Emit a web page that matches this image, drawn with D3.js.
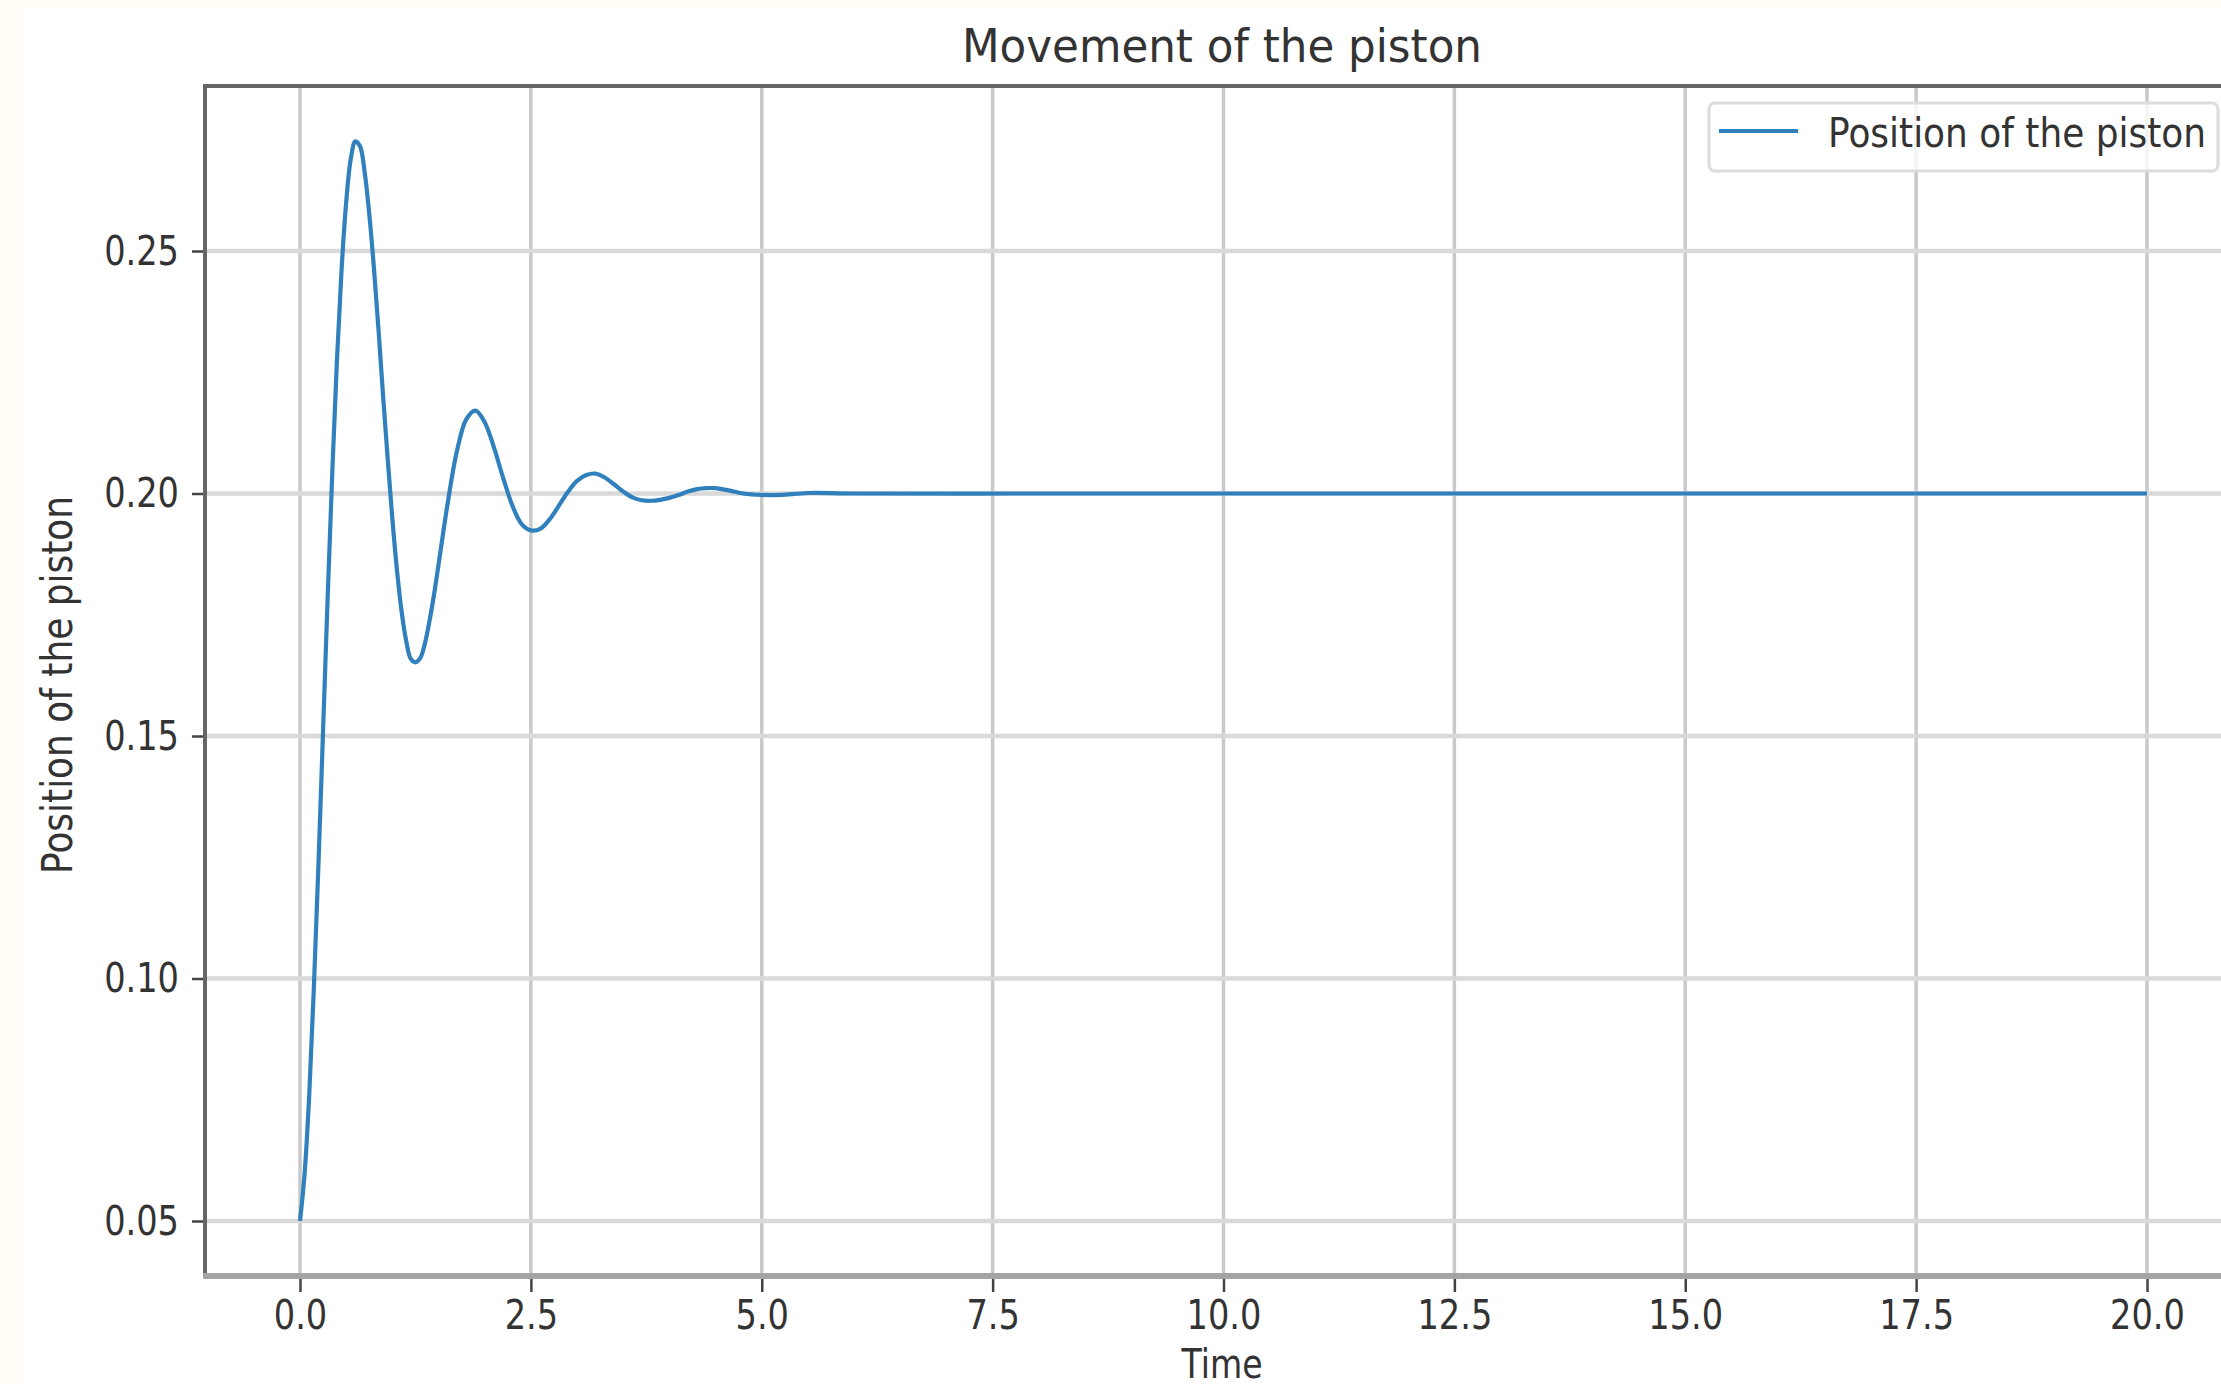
<!DOCTYPE html>
<html>
<head>
<meta charset="utf-8">
<script src="https://cdn.jsdelivr.net/npm/d3@7"></script>
<style>
  body { margin: 0; background: #fffdf6; }
  svg { display: block; }
  text { font-family: "DejaVu Sans", sans-serif; fill: #333; }
</style>
</head>
<body>
<div id="canvas"></div>
<script>
// values
const time = [
  0, 0.05, 0.1, 0.15, 0.2, 0.25, 0.3, 0.35, 0.4, 0.45, 0.5, 0.55, 0.6, 0.65,
  0.7, 0.75, 0.8, 0.85, 0.9, 0.95, 1.0, 1.05, 1.1, 1.15, 1.2, 1.25, 1.3, 1.35,
  1.4, 1.45, 1.5, 1.6, 1.7, 1.8, 1.9, 2.0, 2.1, 2.2, 2.3, 2.4, 2.5, 2.6, 2.7,
  2.8, 2.9, 3.0, 3.1, 3.2, 3.3, 3.4, 3.5, 3.6, 3.7, 3.8, 3.9, 4.0, 4.1, 4.2,
  4.3, 4.4, 4.5, 4.6, 4.7, 4.8, 5.0, 5.2, 5.5, 6.0, 8.0, 10.0, 12.0, 14.0,
  16.0, 18.0, 20.0
];
const position = [
  0.0500, 0.0598, 0.0760, 0.0980, 0.1237, 0.1512, 0.1788, 0.2046, 0.2274,
  0.2461, 0.2600, 0.2690, 0.2726, 0.2716, 0.2663, 0.2576, 0.2466, 0.2338,
  0.2200, 0.2071, 0.1948, 0.1842, 0.1757, 0.1696, 0.1659, 0.1652, 0.1660,
  0.1689, 0.1735, 0.1790, 0.1853, 0.1981, 0.2088, 0.2153, 0.2171, 0.2147,
  0.2095, 0.2032, 0.1975, 0.1937, 0.1924, 0.1927, 0.1946, 0.1974, 0.2003,
  0.2026, 0.2038, 0.2041, 0.2033, 0.2019, 0.2004, 0.1992, 0.1986, 0.1985,
  0.1987, 0.1991, 0.1997, 0.2004, 0.2009, 0.2011, 0.2011, 0.2008, 0.2004,
  0.2000, 0.1997, 0.1997, 0.2001, 0.2000, 0.2000, 0.2000, 0.2000, 0.2000,
  0.2000, 0.2000, 0.2000
];
const xTicks = [0, 2.5, 5, 7.5, 10, 12.5, 15, 17.5, 20];
const yTicks = [0.05, 0.10, 0.15, 0.20, 0.25];

const W = 2221, H = 1384;
const plotLeft = 205, plotTop = 86, plotRight = 2239, plotBottom = 1276;
const squeeze = 0.82; // the picture's text is narrower than the font

const svg = d3.select("#canvas").append("svg")
  .attr("width", W).attr("height", H);

svg.append("rect")
  .attr("x", 24).attr("y", 8).attr("width", W - 24).attr("height", H - 8)
  .attr("fill", "#fff");

const x = d3.scaleLinear().domain([0, 20]).range([300, 2147]);
const y = d3.scaleLinear().domain([0.05, 0.25]).range([1221, 251]);

// grid
svg.append("g").selectAll("line").data(xTicks).enter().append("line")
  .attr("x1", d => x(d)).attr("x2", d => x(d))
  .attr("y1", plotTop).attr("y2", plotBottom)
  .attr("stroke", "#c9c9c9").attr("stroke-width", 3.5);
svg.append("g").selectAll("line").data(yTicks).enter().append("line")
  .attr("x1", plotLeft).attr("x2", plotRight)
  .attr("y1", d => y(d)).attr("y2", d => y(d))
  .attr("stroke", "#d9d9d9").attr("stroke-width", 4.5);

// curve
const line = d3.line()
  .x(d => x(d[0]))
  .y(d => y(d[1]))
  .curve(d3.curveCatmullRom.alpha(0.5));
svg.append("path")
  .datum(d3.zip(time, position))
  .attr("d", line)
  .attr("fill", "none")
  .attr("stroke", "#2f80bc")
  .attr("stroke-width", 4.2);

// frame
svg.append("line").attr("x1", plotLeft).attr("x2", plotRight).attr("y1", plotTop).attr("y2", plotTop)
  .attr("stroke", "#666").attr("stroke-width", 4);
svg.append("line").attr("x1", plotLeft).attr("x2", plotLeft).attr("y1", plotTop - 2).attr("y2", plotBottom)
  .attr("stroke", "#666").attr("stroke-width", 4);
svg.append("line").attr("x1", plotLeft - 2).attr("x2", plotRight).attr("y1", plotBottom).attr("y2", plotBottom)
  .attr("stroke", "#a4a4a4").attr("stroke-width", 6);

// axes
const xAxis = svg.append("g")
  .attr("transform", `translate(0,${plotBottom + 3})`)
  .call(d3.axisBottom(x).tickValues(xTicks).tickFormat(d3.format(".1f")).tickSize(13).tickPadding(8));
const yAxis = svg.append("g")
  .attr("transform", `translate(${plotLeft - 2},0)`)
  .call(d3.axisLeft(y).tickValues(yTicks).tickFormat(d3.format(".2f")).tickSize(11).tickPadding(13));

[xAxis, yAxis].forEach(g => {
  g.select(".domain").remove();
  g.selectAll(".tick line").attr("stroke", "#444").attr("stroke-width", 2.5);
  g.selectAll(".tick text")
    .attr("font-family", "DejaVu Sans")
    .attr("font-size", 41)
    .attr("fill", "#333")
    .each(function () {
      this.setAttribute("textLength", this.getComputedTextLength() * squeeze);
      this.setAttribute("lengthAdjust", "spacingAndGlyphs");
    });
});

// titles
svg.append("text")
  .attr("x", 1222).attr("y", 62)
  .attr("text-anchor", "middle")
  .attr("font-size", 46)
  .attr("textLength", 520).attr("lengthAdjust", "spacingAndGlyphs")
  .text("Movement of the piston");
svg.append("text")
  .attr("x", 1222).attr("y", 1378)
  .attr("text-anchor", "middle")
  .attr("font-size", 41)
  .attr("textLength", 81).attr("lengthAdjust", "spacingAndGlyphs")
  .text("Time");
svg.append("text")
  .attr("transform", "translate(72,685) rotate(-90)")
  .attr("text-anchor", "middle")
  .attr("font-size", 42)
  .attr("textLength", 378).attr("lengthAdjust", "spacingAndGlyphs")
  .text("Position of the piston");

// legend
const legend = svg.append("g");
legend.append("rect")
  .attr("x", 1709).attr("y", 103).attr("width", 509).attr("height", 68).attr("rx", 6)
  .attr("fill", "#fff").attr("fill-opacity", 0.8)
  .attr("stroke", "#dcdcdc").attr("stroke-width", 3);
legend.append("line")
  .attr("x1", 1719).attr("x2", 1798).attr("y1", 131).attr("y2", 131)
  .attr("stroke", "#2f80bc").attr("stroke-width", 4.2);
legend.append("text")
  .attr("x", 1828).attr("y", 147)
  .attr("font-size", 41)
  .attr("textLength", 378).attr("lengthAdjust", "spacingAndGlyphs")
  .text("Position of the piston");
</script>
</body>
</html>
